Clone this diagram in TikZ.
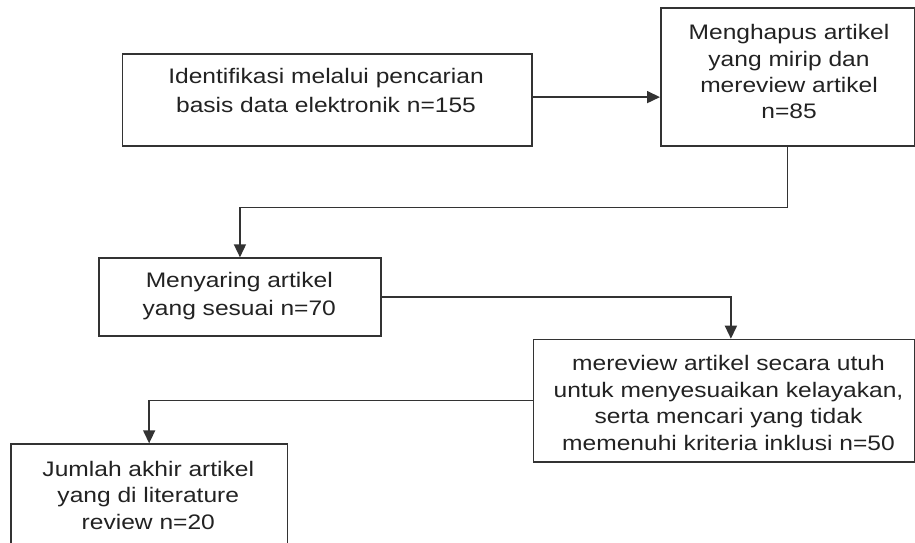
\documentclass[tikz,border=0pt]{standalone}
\usepackage{fontspec}
\setmainfont{Liberation Sans}[FakeStretch=1.17]
\usetikzlibrary{arrows.meta}
\definecolor{ln}{HTML}{333333}
\definecolor{tx}{HTML}{222222}
\tikzset{
  box/.style={draw=ln, line width=1.6pt, rectangle, inner sep=0pt, anchor=north west},
  lbl/.style={text=tx, anchor=north, inner sep=0pt, align=center},
  arr/.style={draw=ln, line width=1.6pt, -{Triangle[length=13pt,width=12pt]}},
  con/.style={draw=ln, line width=1.6pt}
}
\begin{document}
\begin{tikzpicture}[x=1pt,y=-1pt]
\useasboundingbox (0,0) rectangle (915,542);
\clip (0,0) rectangle (915,542);
\fill[white] (0,0) rectangle (915,542);
% boxes
\node[box, minimum width=409.5pt, minimum height=92pt] (A) at (121.5,53) {};
\node[box, minimum width=253.5pt, minimum height=138pt] (B) at (660,7) {};
\node[box, minimum width=281.7pt, minimum height=77.7pt] (C) at (98.3,257.3) {};
\node[box, minimum width=380.8pt, minimum height=122.3pt] (D) at (532.7,338.7) {};
\node[box, minimum width=276.7pt, minimum height=130pt] (E) at (10,443.3) {};
% texts
\node[lbl, font=\fontsize{21}{28.4}\selectfont] (tA) at (326,68.3) {Identifikasi melalui pencarian\\basis data elektronik n=155};
\node[lbl, font=\fontsize{21}{26.3}\selectfont] (tB) at (789,24.3) {Menghapus artikel\\yang mirip dan\\mereview artikel\\n=85};
\node[lbl, font=\fontsize{21}{27.7}\selectfont] (tC) at (239.3,272.5) {Menyaring artikel\\yang sesuai n=70};
\node[lbl, font=\fontsize{21}{26.6}\selectfont] (tD) at (728.5,355.3) {mereview artikel secara utuh\\untuk menyesuaikan kelayakan,\\serta mencari yang tidak\\memenuhi kriteria inklusi n=50};
\node[lbl, font=\fontsize{21}{26.3}\selectfont] (tE) at (148.3,461) {Jumlah akhir artikel\\yang di literature\\review n=20};
% connectors
\draw[arr] ([yshift=2.7pt]A.east) -- ([yshift=2.7pt]A.east -| B.west);
\draw[arr] (B.south) -- ++(0,60.7) -| (C.north);
\draw[arr] (C.east) -| ([xshift=7pt]D.north);
\draw[arr] (D.west) -| (E.north);
\end{tikzpicture}
\end{document}
